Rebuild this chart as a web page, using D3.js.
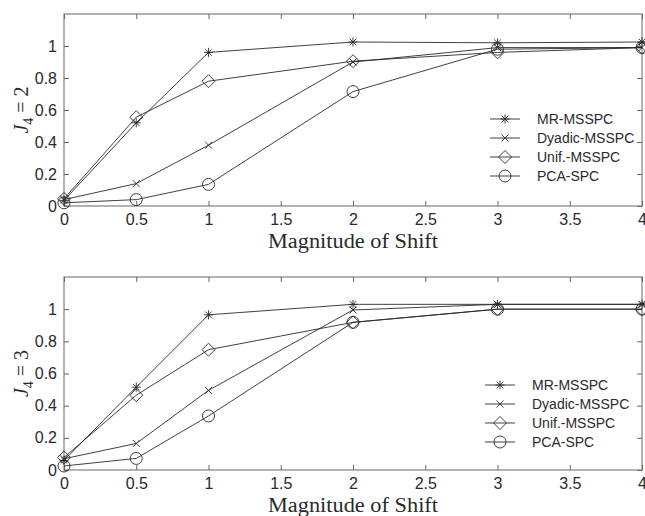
<!DOCTYPE html>
<html><head><meta charset="utf-8">
<script src="https://cdn.jsdelivr.net/npm/d3@7"></script>
<style>body{margin:0;background:#fff}svg{display:block}</style>
</head><body><svg id="c" width="645" height="516"></svg>
<script>
const shifts = [0, 0.5, 1, 2, 3, 4];
const seriesNames = ["MR-MSSPC", "Dyadic-MSSPC", "Unif.-MSSPC", "PCA-SPC"];
const seriesMarkers = ["asterisk", "x", "diamond", "circle"];
// Panel J4 = 2
const j2_MR     = [0.035, 0.52, 0.96, 1.025, 1.02, 1.025];
const j2_Dyadic = [0.04, 0.14, 0.38, 0.90, 0.99, 0.99];
const j2_Unif   = [0.045, 0.555, 0.78, 0.905, 0.96, 0.99];
const j2_PCA    = [0.02, 0.04, 0.135, 0.715, 0.98, 0.99];
// Panel J4 = 3
const j3_MR     = [0.06, 0.515, 0.965, 1.03, 1.03, 1.03];
const j3_Dyadic = [0.07, 0.165, 0.495, 0.995, 1.03, 1.03];
const j3_Unif   = [0.078, 0.465, 0.748, 0.918, 1.0, 1.0];
const j3_PCA    = [0.025, 0.072, 0.336, 0.918, 1.0, 1.0];
const xTicks = [0, 0.5, 1, 1.5, 2, 2.5, 3, 3.5, 4];
const xTickLabels = ["0", "0.5", "1", "1.5", "2", "2.5", "3", "3.5", "4"];
const yTicks = [0, 0.2, 0.4, 0.6, 0.8, 1];
const yTickLabels = ["0", "0.2", "0.4", "0.6", "0.8", "1"];
const xLabel = "Magnitude of Shift";

const panels = [
  {sub: "4", val: "2", data: [j2_MR, j2_Dyadic, j2_Unif, j2_PCA], top: 14, bottom: 206, legX: 490, legY: 119, xlabY: 248},
  {sub: "4", val: "3", data: [j3_MR, j3_Dyadic, j3_Unif, j3_PCA], top: 277, bottom: 470, legX: 485, legY: 385, xlabY: 512}
];

const svg = d3.select("#c");
const LEFT = 64, RIGHT = 642;
const ink = "#2a2a2a", frame = "#666";

function markerPath(type) {
  const p = d3.path();
  if (type === "asterisk") {
    const r = 4.5, d = 3.3;
    p.moveTo(-r, 0); p.lineTo(r, 0); p.moveTo(0, -r); p.lineTo(0, r);
    p.moveTo(-d, -d); p.lineTo(d, d); p.moveTo(-d, d); p.lineTo(d, -d);
  } else if (type === "x") {
    const d = 3.5;
    p.moveTo(-d, -d); p.lineTo(d, d); p.moveTo(-d, d); p.lineTo(d, -d);
  } else if (type === "diamond") {
    const r = 6.5;
    p.moveTo(0, -r); p.lineTo(r, 0); p.lineTo(0, r); p.lineTo(-r, 0); p.closePath();
  } else {
    p.arc(0, 0, 6, 0, 2 * Math.PI);
  }
  return p.toString();
}

panels.forEach(pn => {
  const x = d3.scaleLinear().domain([0, 4]).range([LEFT, RIGHT]);
  const y = d3.scaleLinear().domain([0, 1.2]).range([pn.bottom, pn.top]);
  const g = svg.append("g");

  g.append("rect").attr("x", LEFT).attr("y", pn.top).attr("width", RIGHT - LEFT).attr("height", pn.bottom - pn.top)
    .attr("fill", "none").attr("stroke", frame).attr("stroke-width", 1);

  const styleAxis = sel => {
    sel.select(".domain").remove();
    sel.selectAll(".tick line").attr("stroke", frame);
    sel.selectAll(".tick text").attr("fill", ink).attr("font-family", "Liberation Sans, Arial, sans-serif").attr("font-size", 16);
  };
  g.append("g").attr("transform", `translate(0,${pn.bottom})`)
    .call(d3.axisBottom(x).tickValues(xTicks).tickFormat((d, i) => xTickLabels[i]).tickSize(-5).tickPadding(8)).call(styleAxis);
  g.append("g").attr("transform", `translate(0,${pn.top})`)
    .call(d3.axisTop(x).tickValues(xTicks).tickFormat("").tickSize(-5)).call(styleAxis);
  g.append("g").attr("transform", `translate(${LEFT},0)`)
    .call(d3.axisLeft(y).tickValues(yTicks).tickFormat((d, i) => yTickLabels[i]).tickSize(-5).tickPadding(7)).call(styleAxis);
  g.append("g").attr("transform", `translate(${RIGHT},0)`)
    .call(d3.axisRight(y).tickValues(yTicks).tickFormat("").tickSize(-5)).call(styleAxis);

  const line = d3.line().x((d, i) => x(shifts[i])).y(d => y(d));
  pn.data.forEach((vals, si) => {
    g.append("path").attr("d", line(vals)).attr("fill", "none").attr("stroke", ink).attr("stroke-width", 0.9);
    g.selectAll(null).data(vals).enter().append("path")
      .attr("transform", (d, i) => `translate(${x(shifts[i])},${y(d)})`)
      .attr("d", markerPath(seriesMarkers[si]))
      .attr("fill", "none").attr("stroke", ink).attr("stroke-width", 0.9);
  });

  const lg = g.append("g");
  seriesNames.forEach((name, si) => {
    const yy = pn.legY + si * 19;
    lg.append("line").attr("x1", pn.legX).attr("x2", pn.legX + 30).attr("y1", yy).attr("y2", yy)
      .attr("stroke", ink).attr("stroke-width", 0.9);
    lg.append("path").attr("transform", `translate(${pn.legX + 15},${yy})`).attr("d", markerPath(seriesMarkers[si]))
      .attr("fill", "none").attr("stroke", ink).attr("stroke-width", 0.9);
    lg.append("text").attr("x", pn.legX + 47).attr("y", yy).attr("dy", "0.35em")
      .attr("font-family", "Liberation Sans, Arial, sans-serif").attr("font-size", 14).attr("fill", ink).text(name);
  });

  g.append("text").attr("x", 353).attr("y", pn.xlabY).attr("text-anchor", "middle")
    .attr("font-family", "Liberation Serif, Times New Roman, serif").attr("font-size", 20).attr("fill", ink)
    .attr("textLength", 170).attr("lengthAdjust", "spacingAndGlyphs").text(xLabel);

  const cy = (pn.top + pn.bottom) / 2;
  const yl = g.append("text").attr("transform", `translate(28,${cy}) rotate(-90)`).attr("text-anchor", "middle")
    .attr("font-family", "Liberation Serif, Times New Roman, serif").attr("font-size", 20).attr("fill", ink);
  yl.append("tspan").attr("font-style", "italic").text("J");
  yl.append("tspan").attr("font-size", 14).attr("dy", 5).text(pn.sub);
  yl.append("tspan").attr("dy", -5).text(" = " + pn.val);
});
</script></body></html>
